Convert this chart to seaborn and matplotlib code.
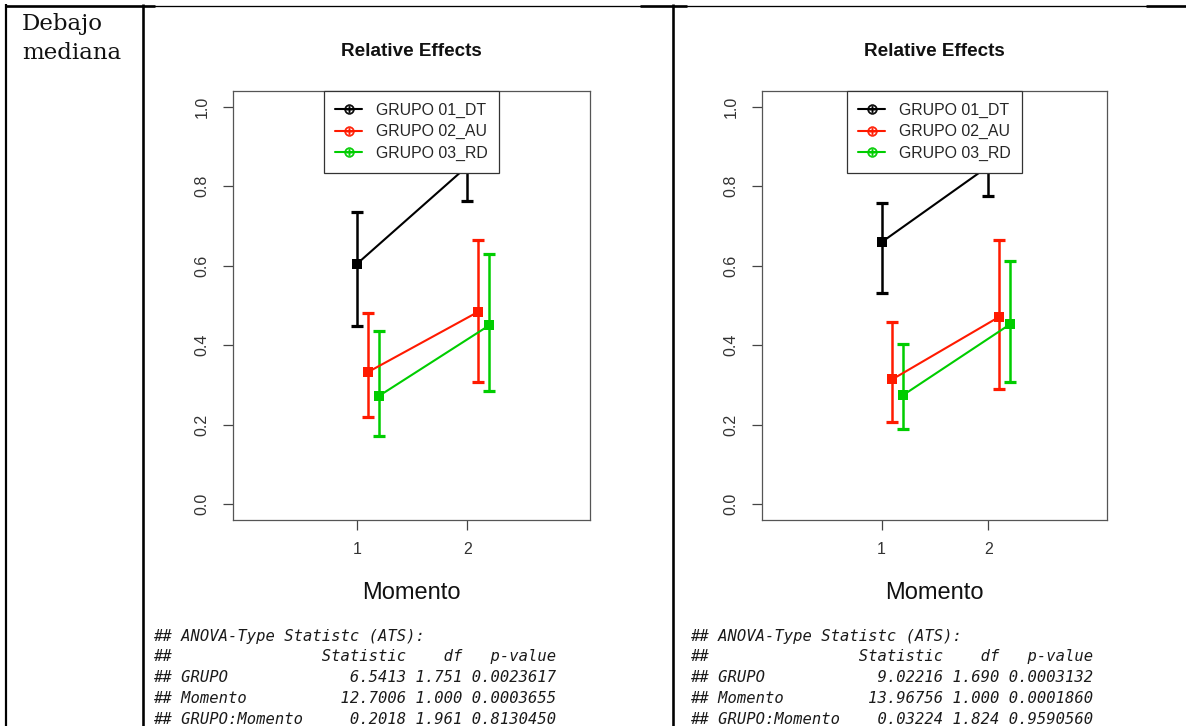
import numpy as np
import pandas as pd
import matplotlib
matplotlib.use("Agg")
import matplotlib.pyplot as plt
from matplotlib.lines import Line2D
import seaborn as sns

# ---- data -------------------------------------------------------------
momento = [1, 2]
grupos = ["GRUPO 01_DT", "GRUPO 02_AU", "GRUPO 03_RD"]

# panel A (relative effects, lower / upper confidence limits)
a_dt = [0.604, 0.850]
a_dt_lo = [0.448, 0.763]
a_dt_hi = [0.734, 0.935]
a_au = [0.332, 0.484]
a_au_lo = [0.218, 0.306]
a_au_hi = [0.480, 0.665]
a_rd = [0.272, 0.450]
a_rd_lo = [0.171, 0.284]
a_rd_hi = [0.435, 0.630]

# panel B
b_dt = [0.659, 0.850]
b_dt_lo = [0.530, 0.774]
b_dt_hi = [0.757, 0.940]
b_au = [0.314, 0.471]
b_au_lo = [0.207, 0.289]
b_au_hi = [0.458, 0.664]
b_rd = [0.274, 0.452]
b_rd_lo = [0.188, 0.307]
b_rd_hi = [0.403, 0.611]

y_ticks = [0.0, 0.2, 0.4, 0.6, 0.8, 1.0]
y_ticklabels = ["0.0", "0.2", "0.4", "0.6", "0.8", "1.0"]

ats_a = [
    "## ANOVA-Type Statistc (ATS):",
    "##                Statistic    df   p-value",
    "## GRUPO             6.5413 1.751 0.0023617",
    "## Momento          12.7006 1.000 0.0003655",
    "## GRUPO:Momento     0.2018 1.961 0.8130450",
]
ats_b = [
    "## ANOVA-Type Statistc (ATS):",
    "##                Statistic    df   p-value",
    "## GRUPO            9.02216 1.690 0.0003132",
    "## Momento         13.96756 1.000 0.0001860",
    "## GRUPO:Momento    0.03224 1.824 0.9590560",
]

row_label = "Debajo\nmediana"
colors = ["#000000", "#ff1a00", "#00cd00"]

# ---- style -------------------------------------------------------------
sns.set_style("white")
plt.rcParams["font.family"] = ["Liberation Sans", "DejaVu Sans"]

W, H = 1186, 726
fig = plt.figure(figsize=(W / 100, H / 100), dpi=100)


def fx(px):
    return px / W


def fy(py):
    return 1 - py / H


def panel_frame(means, los, his):
    rows = []
    for gi, g in enumerate(grupos):
        for mi, m in enumerate(momento):
            rows.append({"grupo": g, "momento": m, "gi": gi,
                         "effect": means[gi][mi], "lo": los[gi][mi], "hi": his[gi][mi]})
    df = pd.DataFrame(rows)
    df["pos"] = df["momento"] + 0.1 * df["gi"]
    return df


def draw_panel(left_px, right_px, means, los, his, stats, text_x):
    ax = fig.add_axes([fx(left_px), fy(520), fx(right_px) - fx(left_px), fy(90.7) - fy(520)])
    df = panel_frame(means, los, his)
    sns.lineplot(data=df, x="pos", y="effect", hue="grupo", palette=colors,
                 hue_order=grupos, marker="s", markersize=6.5, markeredgewidth=0,
                 linewidth=1.5, legend=False, ax=ax, errorbar=None, zorder=3)
    for gi, g in enumerate(grupos):
        sub = df[df["grupo"] == g]
        ax.errorbar(sub["pos"], sub["effect"],
                    yerr=[sub["effect"] - sub["lo"], sub["hi"] - sub["effect"]],
                    fmt="none", ecolor=colors[gi], elinewidth=1.8,
                    capsize=4.6, capthick=2.3, zorder=2)

    ax.set_xlim(-0.12, 3.11)
    ax.set_ylim(-0.04, 1.04)
    ax.set_xticks(momento)
    ax.set_xticklabels([str(m) for m in momento])
    ax.set_yticks(y_ticks)
    ax.set_yticklabels(y_ticklabels)
    for lab in ax.get_yticklabels():
        lab.set_rotation(90)
        lab.set_va("center")
    ax.tick_params(axis="both", direction="out", length=7, width=0.9,
                   bottom=True, left=True, top=False, right=False,
                   color="#444444", labelsize=11.5, labelcolor="#333333")
    ax.tick_params(axis="y", pad=10)
    ax.tick_params(axis="x", pad=9)
    for s in ax.spines.values():
        s.set_color("#555555")
        s.set_linewidth(0.9)
    ax.set_xlabel("Momento", fontsize=17, labelpad=18, color="#111111")
    ax.set_ylabel("")

    handles = [Line2D([0], [0], color=c, lw=1.5, marker=r"$\oplus$", markersize=7,
                      markeredgewidth=0.4) for c in colors]
    leg = ax.legend(handles, grupos, loc="upper center", bbox_to_anchor=(0.5, 1.0),
                    borderaxespad=0, fancybox=False, framealpha=1, fontsize=11.4,
                    handlelength=1.7, handletextpad=0.85, labelspacing=0.42,
                    borderpad=0.74, edgecolor="#333333")
    leg.get_frame().set_linewidth(0.9)
    leg.set_zorder(10)

    cx = (left_px + right_px) / 2
    fig.text(fx(cx), fy(52), "Relative Effects", ha="center", va="center",
             fontsize=13.6, fontweight="bold", color="#111111")

    for i, line in enumerate(stats):
        fig.text(fx(text_x), fy(636 + 20.8 * i), line, ha="left", va="center",
                 family="DejaVu Sans Mono", style="italic", fontsize=11.15,
                 color="#1a1a1a")
    return ax


draw_panel(233, 590, [a_dt, a_au, a_rd], [a_dt_lo, a_au_lo, a_rd_lo],
           [a_dt_hi, a_au_hi, a_rd_hi], ats_a, 153)
draw_panel(762, 1107, [b_dt, b_au, b_rd], [b_dt_lo, b_au_lo, b_rd_lo],
           [b_dt_hi, b_au_hi, b_rd_hi], ats_b, 690)

# row label in the first column
fig.text(fx(22), fy(13), row_label, ha="left", va="top", family="DejaVu Serif",
         fontsize=16.5, linespacing=1.4, color="#111111")

# table rules
def rule(x0, y0, x1, y1, w):
    fig.add_artist(Line2D([fx(x0), fx(x1)], [fy(y0), fy(y1)], color="black",
                          linewidth=w * 0.72, transform=fig.transFigure,
                          solid_capstyle="butt"))


rule(5, 5.5, 1186, 5.5, 1.3)
rule(5, 5.5, 155, 5.5, 2.6)
rule(640, 5.5, 687, 5.5, 2.6)
rule(1146, 5.5, 1186, 5.5, 2.6)
rule(6, 4, 6, 726, 2.2)
rule(143, 4, 143, 726, 2.6)
rule(673, 4, 673, 726, 2.6)

fig.savefig("out.png", dpi=100)
